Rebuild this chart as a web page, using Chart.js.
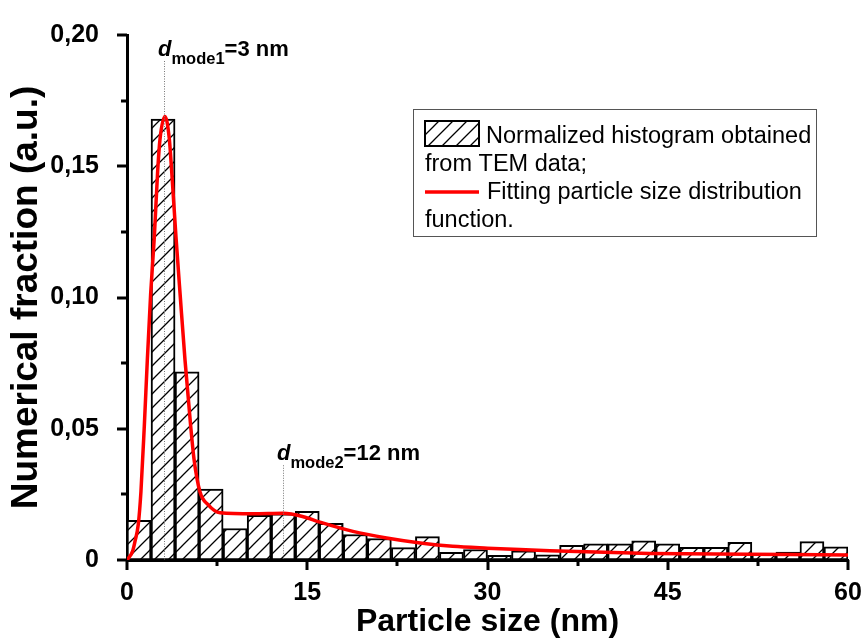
<!DOCTYPE html>
<html>
<head>
<meta charset="utf-8">
<script src="https://cdn.jsdelivr.net/npm/chart.js@4.4.0/dist/chart.umd.min.js"></script>
<style>
  html, body { margin: 0; padding: 0; background: #fff; }
  #wrap { width: 865px; height: 643px; position: relative; }
</style>
</head>
<body>
<div id="wrap"><canvas id="sizeChart"></canvas></div>
<script>
// Histogram: centre of each 2 nm bin and the normalized fraction
const binCenters = [1, 3, 5, 7, 9, 11, 13, 15, 17, 19, 21, 23, 25, 27, 29,
                    31, 33, 35, 37, 39, 41, 43, 45, 47, 49, 51, 53, 55, 57, 59];
const binFractions = [0.0151, 0.168, 0.0717, 0.027, 0.012, 0.017, 0.0176, 0.0185, 0.014, 0.0097,
                      0.0082, 0.0047, 0.0089, 0.0029, 0.004, 0.0018, 0.0035, 0.002, 0.0056, 0.0062,
                      0.0062, 0.0073, 0.0062, 0.0048, 0.0048, 0.0067, 0.0022, 0.003, 0.007, 0.005];

// Fitted size distribution
const fitX = [0, 0.47, 0.67, 0.94, 1.16, 1.44, 1.69, 1.97, 2.27, 2.55, 2.75, 3.16, 3.52, 3.72, 4.08,
              4.44, 4.83, 5.3, 5.57, 6.07, 6.76, 7.74, 10.5, 13.0, 14.67, 16.06, 18.8, 21.6, 24.4,
              27.1, 30, 32.7, 35.2, 43.5, 51.8, 60];
const fitY = [0, 0.0034, 0.0072, 0.0136, 0.026, 0.051, 0.076, 0.1015, 0.1228, 0.148, 0.1605, 0.169, 0.1605, 0.148, 0.1228,
              0.1, 0.076, 0.051, 0.0387, 0.026, 0.021, 0.018, 0.0176, 0.0178, 0.0165, 0.0144, 0.0109, 0.0084, 0.0065,
              0.0052, 0.0045, 0.004, 0.0035, 0.0025, 0.0022, 0.0019];

// Axis ticks and labels
const xTickValues = [0, 15, 30, 45, 60];
const xTickLabels = ['0', '15', '30', '45', '60'];
const yTickValues = [0, 0.05, 0.10, 0.15, 0.20];
const yTickLabels = ['0', '0,05', '0,10', '0,15', '0,20'];

// Mode markers
const modeX = [3.1, 12.95];
const modeLabelY = [0.192, 0.038];
const modeSubs = ['mode1', 'mode2'];
const modeTexts = ['=3 nm', '=12 nm'];

const legendLines = [
  ['Normalized histogram obtained', 'from TEM data;'],
  ['Fitting particle size distribution', 'function.']
];

const FONT = "'Liberation Sans', Arial, sans-serif";
Chart.defaults.font.family = FONT;
Chart.defaults.color = '#000';

// diagonal hatch
function makeHatch() {
  const s = 14;
  const c = document.createElement('canvas');
  c.width = s; c.height = s;
  const g = c.getContext('2d');
  g.fillStyle = '#fff';
  g.fillRect(0, 0, s, s);
  g.strokeStyle = '#000';
  g.lineWidth = 1.3;
  g.beginPath();
  g.moveTo(0, s); g.lineTo(s, 0);
  g.moveTo(-2, 2); g.lineTo(2, -2);
  g.moveTo(s - 2, s + 2); g.lineTo(s + 2, s - 2);
  g.stroke();
  return g.createPattern(c, 'repeat');
}
const hatch = makeHatch();

function near(list, v) {
  return list.findIndex(t => Math.abs(t - v) < 1e-9);
}

// outward major/minor tick marks
const axisTicks = {
  id: 'axisTicks',
  afterDraw(chart) {
    const { ctx, scales: { x, y } } = chart;
    ctx.save();
    ctx.strokeStyle = '#000';
    ctx.lineWidth = 3;
    x.ticks.forEach(t => {
      const px = Math.round(x.getPixelForValue(t.value));
      const len = near(xTickValues, t.value) >= 0 ? 10 : 6;
      ctx.beginPath();
      ctx.moveTo(px, x.top);
      ctx.lineTo(px, x.top + len);
      ctx.stroke();
    });
    y.ticks.forEach(t => {
      const py = Math.round(y.getPixelForValue(t.value));
      const len = near(yTickValues, t.value) >= 0 ? 10 : 6;
      ctx.beginPath();
      ctx.moveTo(y.right, py);
      ctx.lineTo(y.right - len, py);
      ctx.stroke();
    });
    ctx.restore();
  }
};

// dotted mode lines with d_mode labels
const modeMarks = {
  id: 'modeMarks',
  afterDatasetsDraw(chart) {
    const { ctx, scales: { x, y } } = chart;
    ctx.save();
    modeX.forEach((mx, i) => {
      const px = Math.round(x.getPixelForValue(mx)) + 0.5;
      const py = y.getPixelForValue(modeLabelY[i]);
      ctx.strokeStyle = '#777';
      ctx.lineWidth = 1;
      ctx.setLineDash([1, 1.5]);
      ctx.beginPath();
      ctx.moveTo(px, py + 5);
      ctx.lineTo(px, y.bottom);
      ctx.stroke();
      ctx.setLineDash([]);

      ctx.fillStyle = '#000';
      ctx.textBaseline = 'alphabetic';
      ctx.textAlign = 'left';
      let tx = px - 6.5;
      ctx.font = 'italic bold 22px ' + FONT;
      ctx.fillText('d', tx, py);
      tx += ctx.measureText('d').width;
      ctx.font = 'bold 16.5px ' + FONT;
      ctx.fillText(modeSubs[i], tx, py + 8);
      tx += ctx.measureText(modeSubs[i]).width;
      ctx.font = 'bold 22px ' + FONT;
      ctx.fillText(modeTexts[i], tx, py);
    });
    ctx.restore();
  }
};

// boxed legend with wrapped labels
const boxLegend = {
  id: 'boxLegend',
  afterDraw(chart) {
    const ctx = chart.ctx;
    ctx.save();
    ctx.strokeStyle = '#555';
    ctx.lineWidth = 1;
    ctx.strokeRect(413.5, 109.5, 403, 127);

    ctx.fillStyle = hatch;
    ctx.fillRect(425, 121, 54, 25);
    ctx.strokeStyle = '#000';
    ctx.lineWidth = 2;
    ctx.strokeRect(425, 121, 54, 25);

    ctx.strokeStyle = '#ff0000';
    ctx.lineWidth = 3.5;
    ctx.beginPath();
    ctx.moveTo(425, 192);
    ctx.lineTo(479, 192);
    ctx.stroke();

    ctx.fillStyle = '#000';
    ctx.font = '23.5px ' + FONT;
    ctx.textAlign = 'left';
    ctx.textBaseline = 'alphabetic';
    ctx.fillText(legendLines[0][0], 486, 143);
    ctx.fillText(legendLines[0][1], 425, 171);
    ctx.fillText(legendLines[1][0], 487, 199);
    ctx.fillText(legendLines[1][1], 425, 227);
    ctx.restore();
  }
};

const ctx = document.getElementById('sizeChart').getContext('2d');
new Chart(ctx, {
  type: 'bar',
  data: {
    datasets: [{
      type: 'line',
      label: legendLines[1].join(' '),
      data: fitX.map((v, i) => ({ x: v, y: fitY[i] })),
      borderColor: '#ff0000',
      borderWidth: 3.5,
      pointRadius: 0,
      cubicInterpolationMode: 'monotone',
      fill: false,
      order: 0
    }, {
      type: 'bar',
      label: legendLines[0].join(' '),
      data: binCenters.map((v, i) => ({ x: v, y: binFractions[i] })),
      backgroundColor: hatch,
      borderColor: '#000',
      borderWidth: 2,
      borderSkipped: false,
      barPercentage: 1,
      categoryPercentage: 1,
      order: 1
    }]
  },
  options: {
    responsive: true,
    maintainAspectRatio: false,
    animation: false,
    layout: { padding: { top: 28, right: 17, left: 0, bottom: 0 } },
    plugins: { legend: { display: false }, tooltip: { enabled: false } },
    scales: {
      x: {
        type: 'linear',
        min: 0,
        max: 60,
        offset: false,
        grid: { display: false },
        border: { display: true, color: '#000', width: 3 },
        ticks: {
          stepSize: 7.5,
          autoSkip: false,
          maxRotation: 0,
          padding: 10,
          font: { size: 25, weight: 'bold' },
          callback: v => { const i = near(xTickValues, v); return i >= 0 ? xTickLabels[i] : ''; }
        },
        title: {
          display: true,
          text: 'Particle size (nm)',
          font: { size: 32, weight: 'bold' },
          padding: { top: 0, bottom: 2 }
        },
        afterFit: s => { s.height = 83; s.paddingLeft = 0; s.paddingRight = 0; }
      },
      y: {
        min: 0,
        max: 0.2,
        grid: { display: false },
        border: { display: true, color: '#000', width: 3 },
        ticks: {
          stepSize: 0.025,
          autoSkip: false,
          padding: 20,
          font: { size: 25, weight: 'bold' },
          callback: v => { const i = near(yTickValues, v); return i >= 0 ? yTickLabels[i] : ''; }
        },
        title: {
          display: true,
          text: 'Numerical fraction (a.u.)',
          font: { size: 37, weight: 'bold' },
          padding: { top: 5, bottom: 0 }
        },
        afterFit: s => { s.width = 127; }
      }
    }
  },
  plugins: [axisTicks, modeMarks, boxLegend]
});
</script>
</body>
</html>
